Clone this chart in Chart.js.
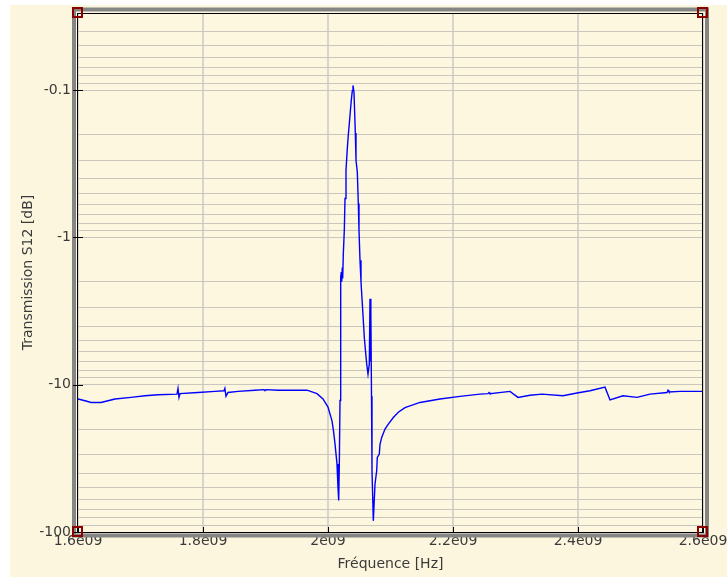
<!DOCTYPE html>
<html>
<head>
<meta charset="utf-8">
<script src="https://cdn.jsdelivr.net/npm/chart.js@4.4.1/dist/chart.umd.min.js"></script>
<style>
  html, body { margin: 0; padding: 0; background: #fff; }
  canvas { display: block; }
</style>
</head>
<body>
<canvas id="c" width="727" height="577"></canvas>
<script>
// frequency points, GHz
const freqGHz = [
  1.6, 1.6128, 1.6208, 1.6368, 1.6592, 1.6848, 1.7072, 1.728, 1.7584, 1.76, 1.7616, 1.7632,
  1.792, 1.8192, 1.8336, 1.835, 1.8368, 1.84, 1.856, 1.8832, 1.8976, 1.8992, 1.9008, 1.92,
  1.9664, 1.9824, 1.992, 2.0, 2.0064, 2.0088, 2.0112, 2.0144, 2.016, 2.0171, 2.0181, 2.0192,
  2.0203, 2.0213, 2.0219, 2.0229, 2.0235, 2.0245, 2.0261, 2.0272, 2.0288, 2.0309, 2.0325,
  2.0341, 2.0357, 2.0373, 2.0389, 2.04, 2.0416, 2.0427, 2.0437, 2.0448, 2.0469, 2.0485,
  2.0496, 2.0512, 2.0528, 2.0549, 2.0565, 2.0581, 2.0597, 2.0619, 2.064, 2.0661, 2.0672,
  2.0683, 2.0688, 2.0696, 2.0704, 2.0725, 2.0741, 2.0752, 2.0779, 2.0789, 2.0821, 2.0832,
  2.0859, 2.0912, 2.0965, 2.1045, 2.1125, 2.1232, 2.1472, 2.1792, 2.2112, 2.2432, 2.256,
  2.2576, 2.2592, 2.2912, 2.304, 2.3232, 2.3424, 2.376, 2.3984, 2.4192, 2.4432, 2.4512,
  2.472, 2.4944, 2.5152, 2.5424, 2.544, 2.5456, 2.5632, 2.6
];
// transmission S12, dB
const s12dB = [
  -12.5, -12.9, -13.2, -13.2, -12.5, -12.2, -11.9, -11.7, -11.6, -10.6, -12.2, -11.5,
  -11.3, -11.1, -11.0, -10.6, -12.0, -11.3, -11.1, -10.9, -10.8, -11.0, -10.8, -10.9,
  -10.9, -11.5, -12.5, -14.2, -17.6, -20.6, -25.2, -34.5, -50, -61, -35, -12.8,
  -1.86, -1.72, -2.0, -1.6, -1.9, -1.29, -0.894, -0.545, -0.35, -0.249, -0.202,
  -0.169, -0.140, -0.117, -0.101, -0.093, -0.104, -0.144, -0.196, -0.30, -0.36, -0.59,
  -0.894, -1.43, -2.01, -2.82, -3.67, -4.77, -5.72, -7.23, -8.46, -7.23, -2.61,
  -7.0, -3.14, -12, -38.4, -84, -60, -47.3, -38.4, -31.2, -29.6, -25.4,
  -22.8, -20.0, -18.5, -16.7, -15.4, -14.3, -13.2, -12.5, -12.0, -11.6, -11.5,
  -11.3, -11.5, -11.1, -12.2, -11.8, -11.6, -11.9, -11.4, -11.0, -10.4, -12.7,
  -11.9, -12.2, -11.6, -11.3, -10.9, -11.2, -11.1, -11.1
];
const yLabels = [-0.1, -1, -10, -100];
const xTicks = [1.6, 1.8, 2.0, 2.2, 2.4, 2.6];

const FONT = { family: 'DejaVu Sans', size: 14 };
const TXT = '#3a3a3a';

// axis is |dB| on a reversed log scale, labels shown negative
const points = freqGHz.map((f, i) => ({ x: f, y: -s12dB[i] }));

const logTicks = [];
for (let e = -2; e <= 2; e++) {
  for (let m = 1; m <= 9; m++) {
    const v = +(m * Math.pow(10, e)).toPrecision(3);
    if (v >= 0.03 && v <= 100) logTicks.push(v);
  }
}
const isLabel = v => yLabels.some(l => Math.abs(-l - v) < 1e-9);

const frame = {
  id: 'frame',
  beforeDraw(chart) {
    const ctx = chart.ctx;
    ctx.save();
    ctx.fillStyle = '#fff';
    ctx.fillRect(0, 0, chart.width, chart.height);
    ctx.fillStyle = '#fdf6df';
    ctx.fillRect(10, 5, chart.width - 10, chart.height - 5);
    const a = chart.chartArea;
    ctx.fillStyle = '#fef7e0';
    ctx.fillRect(a.left, a.top, a.right - a.left, a.bottom - a.top);
    ctx.restore();
  },
  afterDraw(chart) {
    const ctx = chart.ctx, a = chart.chartArea;
    const L = Math.round(a.left), T = Math.round(a.top), R = Math.round(a.right), B = Math.round(a.bottom);
    ctx.save();
    // grey outer frame
    ctx.strokeStyle = '#858585';
    ctx.lineWidth = 4;
    ctx.strokeRect(L - 4, T - 3.5, R - L + 8, B - T + 7);
    // black plot border
    ctx.strokeStyle = '#000';
    ctx.lineWidth = 1;
    ctx.strokeRect(L - 0.5, T + 0.5, R - L, B - T);
    // inward tick marks
    const ys = chart.scales.y, xs = chart.scales.x;
    yLabels.forEach(l => {
      const py = Math.round(ys.getPixelForValue(-l)) + 0.5;
      ctx.beginPath(); ctx.moveTo(L - 5, py); ctx.lineTo(L + 5, py); ctx.stroke();
    });
    xTicks.forEach(t => {
      const px = Math.round(xs.getPixelForValue(t)) + 0.5;
      ctx.beginPath(); ctx.moveTo(px, B - 5); ctx.lineTo(px, B + 1); ctx.stroke();
    });
    // corner handles
    ctx.strokeStyle = '#8b0000';
    ctx.lineWidth = 2;
    [[L, T], [R, T], [L, B], [R, B]].forEach(([cx, cy]) => {
      ctx.strokeRect(cx - 5, cy - 5, 9, 9);
    });
    ctx.restore();
  }
};

new Chart(document.getElementById('c').getContext('2d'), {
  type: 'line',
  data: {
    datasets: [{
      data: points,
      borderColor: '#0000ff',
      borderWidth: 1.4,
      pointRadius: 0,
      tension: 0,
      fill: false
    }]
  },
  options: {
    responsive: false,
    animation: false,
    devicePixelRatio: 1,
    layout: { padding: { left: 0, top: 13, right: 24, bottom: 0 } },
    plugins: { legend: { display: false }, tooltip: { enabled: false } },
    scales: {
      x: {
        type: 'linear',
        min: 1.6, max: 2.6,
        afterBuildTicks: s => { s.ticks = xTicks.map(v => ({ value: v })); },
        afterFit: s => { s.height = 45; s.paddingLeft = 0; s.paddingRight = 0; },
        grid: { color: '#d8d5cb', lineWidth: 2, drawTicks: false },
        border: { display: false },
        ticks: {
          font: FONT, color: TXT, padding: 1, maxRotation: 0, autoSkip: false,
          callback: v => (Math.round(v * 10) / 10) + 'e09'
        },
        title: { display: true, text: 'Fréquence [Hz]', font: FONT, color: TXT, padding: { top: 0, bottom: 4 } }
      },
      y: {
        type: 'logarithmic',
        reverse: true,
        min: 0.03, max: 100,
        afterBuildTicks: s => { s.ticks = logTicks.map(v => ({ value: v })); },
        afterFit: s => { s.width = 78; s.paddingTop = 0; s.paddingBottom = 0; },
        grid: { color: '#c8c6bd', lineWidth: 1, drawTicks: false },
        border: { display: false },
        ticks: {
          font: FONT, color: TXT, padding: 7, autoSkip: false,
          callback: v => isLabel(v) ? String(-v) : ''
        },
        title: { display: true, text: 'Transmission S12 [dB]', font: FONT, color: TXT, padding: { top: 20, bottom: 0 } }
      }
    }
  },
  plugins: [frame]
});
</script>
</body>
</html>
